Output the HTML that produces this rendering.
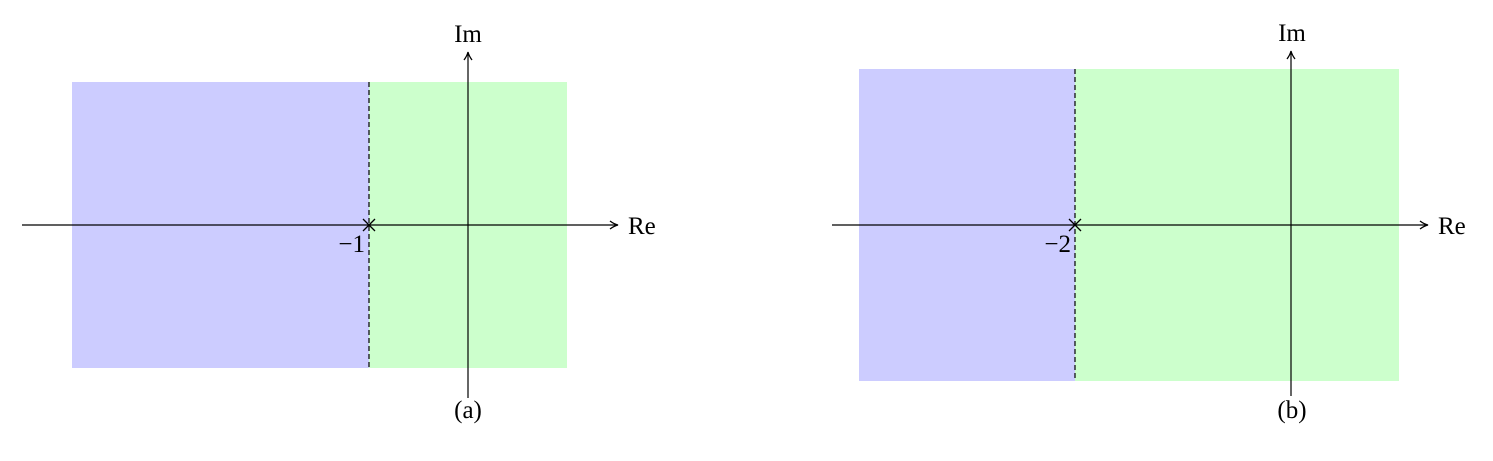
<!DOCTYPE html>
<html><head><meta charset="utf-8"><style>body{margin:0;background:#fff}svg{display:block}text{font-family:"Liberation Serif",serif;font-size:25px;fill:#000}</style></head>
<body>
<svg width="1493" height="461" viewBox="0 0 1493 461" xmlns="http://www.w3.org/2000/svg">
<defs><marker id="a" markerWidth="10" markerHeight="10" refX="8" refY="5" orient="auto" markerUnits="userSpaceOnUse"><path d="M1,1 Q5,4 9,5 Q5,6 1,9" fill="none" stroke="#000" stroke-width="1.3"/></marker></defs>
<!-- panel a -->
<rect x="72" y="82" width="297" height="286" fill="#ccccff"/>
<rect x="369" y="82" width="198" height="286" fill="#ccffcc"/>
<line x1="369" y1="82" x2="369" y2="368" stroke="#000" stroke-width="1.2" stroke-dasharray="5,3"/>
<line x1="22" y1="225" x2="617" y2="225" stroke="#000" stroke-width="1.2" marker-end="url(#a)"/>
<line x1="468" y1="398" x2="468" y2="53" stroke="#000" stroke-width="1.2" marker-end="url(#a)"/>
<path d="M363,219 L375,231 M375,219 L363,231" stroke="#000" stroke-width="1.3"/>
<text x="628" y="234">Re</text>
<text x="468" y="42" text-anchor="middle">Im</text>
<text x="365" y="252" text-anchor="end">−1</text>
<text x="468" y="418" text-anchor="middle">(a)</text>
<!-- panel b -->
<rect x="859" y="69" width="216" height="312" fill="#ccccff"/>
<rect x="1075" y="69" width="324" height="312" fill="#ccffcc"/>
<line x1="1075" y1="69" x2="1075" y2="381" stroke="#000" stroke-width="1.2" stroke-dasharray="5,3"/>
<line x1="832" y1="225" x2="1427" y2="225" stroke="#000" stroke-width="1.2" marker-end="url(#a)"/>
<line x1="1291" y1="396" x2="1291" y2="52" stroke="#000" stroke-width="1.2" marker-end="url(#a)"/>
<path d="M1069,219 L1081,231 M1081,219 L1069,231" stroke="#000" stroke-width="1.3"/>
<text x="1438" y="234">Re</text>
<text x="1292" y="41" text-anchor="middle">Im</text>
<text x="1071" y="252" text-anchor="end">−2</text>
<text x="1292" y="418" text-anchor="middle">(b)</text>
</svg>
</body></html>
